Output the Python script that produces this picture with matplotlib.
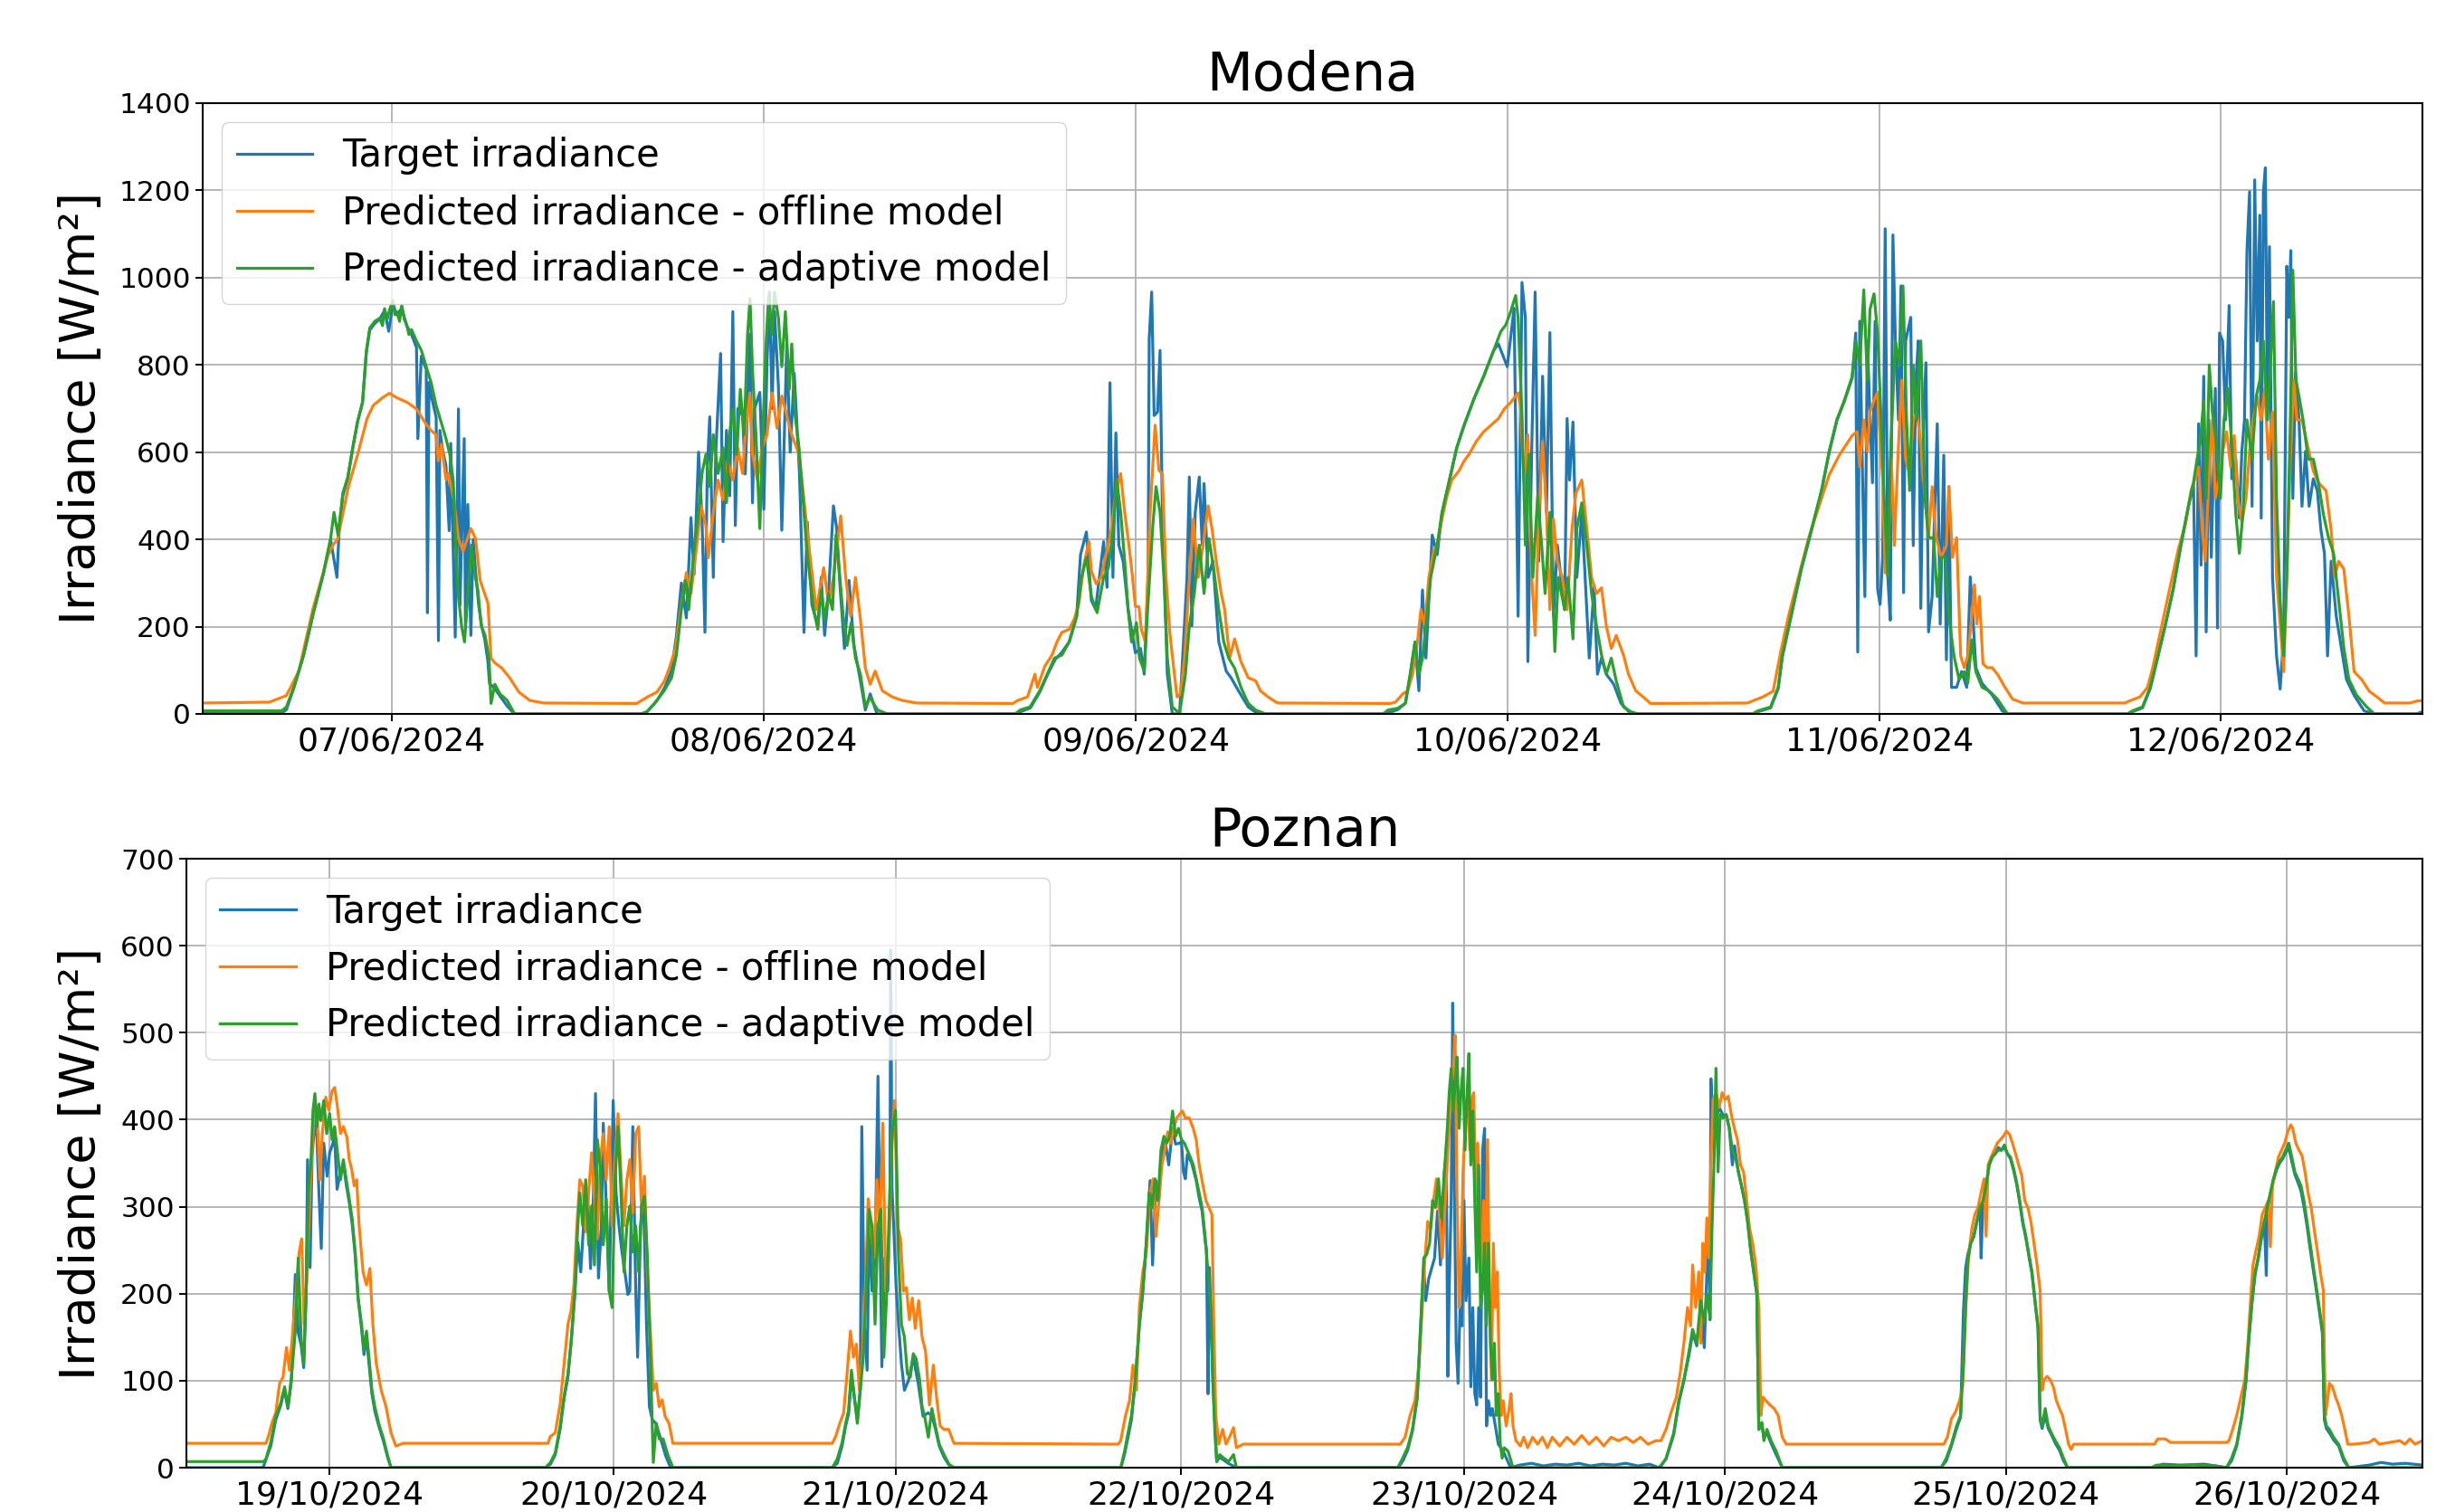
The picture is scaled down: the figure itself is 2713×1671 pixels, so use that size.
import numpy as np
import matplotlib
matplotlib.use("Agg")
import matplotlib.pyplot as plt

# ---------------- Modena (hours from start of plotted window, W/m2) ----------------
modena_ticks = [12.2, 36.2, 60.2, 84.2, 108.2, 130.2]
modena_ticklabels = ["07/06/2024", "08/06/2024", "09/06/2024", "10/06/2024", "11/06/2024", "12/06/2024"]

modena_target = [
    (0,2),(5.1,2),(5.4,10),(5.88,60),(6.51,135),(7.14,232),(7.78,321),(8.25,400),(8.66,313),(8.8,420),(9.04,500),(9.36,540),(9.68,610),(9.99,670),(10.31,714),(10.56,830),(10.78,880),(11.1,895),(11.42,905),(11.73,925),(12.0,877),(12.27,940),(12.52,915),(12.84,930),(13.16,890),(13.47,870),(13.79,840),(13.88,631),(14.1,820),(14.42,790),(14.5,232),(14.6,760),(14.74,730),(15.06,680),(15.21,168),(15.3,650),(15.5,600),(15.69,570),(15.9,420),(16.0,620),(16.29,176),(16.5,699),(16.6,250),(16.7,400),(16.87,631),(16.95,200),(17.1,480),(17.3,180),(17.45,400),(17.6,330),(17.8,250),(18.0,200),(18.2,170),(18.4,120),(18.5,70),(18.8,60),(19.2,40),(19.6,20),(20.1,0),
    (28.3,0),(28.66,5),(29.3,30),(29.8,60),(30.25,100),(30.56,180),(30.88,300),(31.2,220),(31.5,450),(31.7,320),(31.99,600),(32.21,450),(32.4,187),(32.55,560),(32.71,681),(32.94,313),(33.1,600),(33.41,826),(33.57,395),(33.79,650),(34.0,500),(34.2,922),(34.36,432),(34.52,700),(34.83,684),(35.0,550),(35.3,870),(35.47,484),(35.6,700),(35.94,737),(36.2,469),(36.4,800),(36.57,967),(36.73,700),(36.89,922),(37.14,750),(37.36,421),(37.68,848),(37.9,600),(38.16,781),(38.5,550),(38.79,187),(39.0,440),(39.3,250),(39.68,202),(39.9,313),(40.12,180),(40.37,276),(40.69,477),(40.9,425),(41.1,300),(41.4,150),(41.7,306),(42.0,160),(42.43,76),(42.75,9),(43.06,46),(43.5,0),
    (52.4,0),(53.4,14),(54.0,50),(54.5,90),(55.0,125),(55.4,140),(55.9,165),(56.38,224),(56.63,365),(57.01,417),(57.33,260),(57.6,240),(58.12,395),(58.34,290),(58.53,759),(58.72,313),(58.91,644),(59.1,387),(59.38,350),(59.7,240),(60.17,140),(60.5,150),(60.74,91),(60.99,313),(61.06,859),(61.22,967),(61.38,684),(61.6,692),(61.76,833),(61.91,462),(62.23,91),(62.55,0),(63.02,0),(63.5,313),(63.65,543),(63.81,202),(64.03,462),(64.29,543),(64.48,387),(64.6,528),(64.86,313),(65.17,350),(65.55,165),(66.03,98),(66.34,83),(66.82,53),(67.45,16),(68.08,0),
    (76.3,0),(77.1,10),(77.6,25),(77.9,90),(78.21,165),(78.46,53),(78.69,284),(78.91,128),(79.32,410),(79.64,365),(79.95,460),(80.43,536),(80.9,610),(81.38,662),(82.01,722),(82.64,774),(83.28,833),(83.59,848),(84.16,796),(84.6,930),(84.86,224),(85.11,989),(85.33,907),(85.49,120),(85.74,610),(85.96,967),(86.19,350),(86.44,774),(86.69,462),(86.91,874),(87.14,224),(87.39,387),(87.86,239),(88.02,677),(88.18,536),(88.4,669),(88.65,313),(88.97,462),(89.29,239),(89.45,128),(89.76,291),(89.98,91),(90.24,128),(90.55,91),(91.03,68),(91.5,24),(92.14,0),
    (100.0,0),(100.32,5),(101.15,14),(101.64,58),(101.9,130),(102.46,222),(103.12,330),(103.78,420),(104.43,510),(104.93,600),(105.42,672),(105.91,717),(106.41,770),(106.64,873),(106.77,142),(106.9,900),(107.06,584),(107.23,269),(107.39,855),(107.72,530),(107.89,900),(108.05,287),(108.21,251),(108.38,359),(108.54,1112),(108.71,314),(108.87,215),(109.04,1098),(109.2,855),(109.4,674),(109.56,981),(109.73,278),(109.86,855),(110.19,909),(110.35,386),(110.52,765),(110.68,855),(110.84,242),(111.01,674),(111.17,805),(111.34,188),(111.57,269),(111.9,665),(112.09,206),(112.32,593),(112.49,124),(112.65,521),(112.82,61),(113.15,61),(113.47,97),(113.8,61),(114.03,314),(114.2,224),(114.39,106),(114.79,70),(115.45,43),(116.1,7),(116.4,0),
    (124.16,0),(124.49,5),(125.14,14),(125.64,58),(126.13,130),(126.62,204),(127.12,285),(127.61,384),(128.1,474),(128.43,528),(128.6,133),(128.76,665),(128.92,341),(129.09,774),(129.25,188),(129.42,674),(129.58,359),(129.84,746),(129.98,197),(130.11,873),(130.31,855),(130.5,674),(130.73,936),(130.9,539),(131.16,584),(131.39,449),(131.55,602),(131.72,674),(131.88,1062),(132.05,1197),(132.21,476),(132.38,1224),(132.54,855),(132.71,1143),(132.8,449),(132.94,1197),(133.07,1252),(133.2,674),(133.33,1071),(133.53,314),(133.79,133),(134.02,57),(134.25,178),(134.45,1026),(134.58,909),(134.71,1062),(134.84,494),(135.01,783),(135.24,674),(135.43,476),(135.66,602),(135.89,476),(136.16,539),(136.42,512),(136.65,422),(136.88,368),(137.08,133),(137.31,350),(137.64,224),(137.97,151),(138.3,79),(138.79,43),(139.44,7),(140.1,0),(142.8,0),(143.2,5),
]

modena_offline = [
    (0,25),(4.3,27),(5.4,42),(6.2,98),(7.1,239),(8.1,365),(8.4,387),(8.7,400),(9.4,521),(10.0,595),(10.6,677),(11.0,707),(11.6,725),(12.05,735),(12.5,725),(13.2,714),(13.8,699),(14.3,670),(14.7,651),(15.05,640),(15.2,580),(15.4,618),(15.7,536),(15.85,551),(16.2,491),(16.5,402),(16.8,373),(17.3,425),(17.6,402),(17.9,306),(18.4,254),(18.6,128),(18.85,117),(19.3,105),(19.8,83),(20.4,50),(21.1,31),(22.0,25),
    (28.0,24),(28.7,39),(29.3,50),(29.8,76),(30.1,105),(30.5,150),(30.8,230),(31.2,324),(31.5,276),(31.8,365),(32.15,477),(32.46,432),(32.62,358),(32.94,462),(33.25,536),(33.57,491),(33.88,580),(34.2,536),(34.52,610),(34.83,551),(35.0,640),(35.3,736),(35.47,595),(35.78,536),(36.1,610),(36.4,640),(36.73,736),(37.05,655),(37.36,729),(37.68,684),(38.0,640),(38.47,595),(38.79,491),(39.1,387),(39.36,306),(39.58,239),(40.06,335),(40.37,254),(40.69,313),(41.16,454),(41.48,313),(41.8,224),(42.11,313),(42.43,217),(42.75,105),(43.06,68),(43.38,98),(43.85,53),(44.49,39),(45.12,31),(46.07,25),
    (52.26,24),(52.58,31),(53.21,39),(53.69,91),(53.85,61),(54.32,109),(54.79,135),(55.11,165),(55.43,187),(55.9,194),(56.22,217),(56.53,254),(56.85,343),(57.17,395),(57.33,328),(57.64,298),(57.96,313),(58.27,365),(58.59,417),(58.91,506),(59.22,551),(59.48,462),(59.7,402),(59.92,335),(60.17,246),(60.4,246),(60.55,194),(60.81,165),(61.12,462),(61.44,662),(61.69,558),(61.91,551),(62.14,313),(62.39,187),(62.64,105),(62.86,39),(63.08,46),(63.34,128),(63.59,276),(63.91,447),(64.22,313),(64.54,387),(64.86,477),(65.11,425),(65.39,350),(65.71,276),(65.93,239),(66.25,128),(66.57,172),(66.98,120),(67.45,83),(67.93,76),(68.24,53),(68.72,39),(69.35,25),
    (76.63,24),(76.95,27),(77.42,46),(77.74,53),(78.05,91),(78.37,165),(78.59,239),(78.84,202),(79.1,313),(79.41,373),(79.64,387),(79.95,447),(80.27,499),(80.58,536),(81.06,558),(81.38,580),(81.69,595),(82.17,625),(82.64,647),(83.12,662),(83.59,677),(83.97,699),(84.38,714),(84.86,736),(85.02,699),(85.24,536),(85.49,640),(85.74,313),(85.96,180),(86.19,447),(86.44,625),(86.69,462),(86.91,239),(87.14,447),(87.39,350),(87.71,313),(88.02,239),(88.34,425),(88.59,506),(88.97,536),(89.29,425),(89.6,313),(89.92,276),(90.24,289),(90.55,202),(90.87,150),(91.19,180),(91.66,135),(91.98,91),(92.45,53),(92.93,39),(93.4,24),
    (99.67,25),(100.0,30),(100.65,39),(101.31,52),(101.8,142),(102.3,224),(102.95,314),(103.61,404),(104.27,476),(104.93,548),(105.58,593),(106.08,620),(106.41,638),(106.73,647),(106.9,566),(107.16,674),(107.39,602),(107.56,692),(107.82,719),(108.05,737),(108.21,629),(108.38,539),(108.54,323),(108.71,350),(108.94,584),(109.13,386),(109.36,584),(109.6,765),(109.86,584),(110.12,548),(110.35,674),(110.58,692),(110.84,620),(111.11,494),(111.34,404),(111.57,521),(111.83,404),(112.16,359),(112.49,386),(112.65,521),(112.88,359),(113.15,404),(113.41,133),(113.64,106),(113.87,133),(114.13,224),(114.3,296),(114.46,206),(114.62,269),(114.85,115),(115.12,106),(115.45,106),(115.84,88),(116.27,61),(116.76,34),(117.42,25),
    (123.99,25),(124.32,30),(124.98,39),(125.47,61),(125.8,106),(126.13,161),(126.46,215),(126.95,296),(127.45,377),(127.94,440),(128.27,512),(128.53,539),(128.76,566),(128.99,422),(129.19,350),(129.42,539),(129.65,674),(129.84,494),(130.08,539),(130.31,602),(130.57,647),(130.83,566),(131.06,638),(131.29,494),(131.55,440),(131.82,494),(132.05,602),(132.28,674),(132.54,728),(132.8,674),(133.03,746),(133.26,584),(133.53,692),(133.79,314),(134.02,206),(134.25,97),(134.45,314),(134.68,584),(134.91,765),(135.1,674),(135.43,674),(135.76,620),(136.16,557),(136.49,530),(136.98,512),(137.31,422),(137.54,314),(137.8,350),(138.13,332),(138.46,224),(138.79,97),(139.28,79),(139.77,52),(140.27,39),(140.76,25),(142.4,25),(142.9,30),(143.2,30),
]

modena_adaptive = [
    (0,7),(5.09,7),(5.4,16),(5.88,61),(6.51,135),(7.14,232),(7.78,321),(8.25,402),(8.47,462),(8.73,410),(9.04,506),(9.36,543),(9.68,610),(9.99,670),(10.31,714),(10.56,833),(10.78,885),(11.1,900),(11.42,907),(11.6,890),(11.73,929),(11.9,905),(12.05,926),(12.27,948),(12.4,915),(12.52,922),(12.7,900),(12.84,937),(13.0,905),(13.16,892),(13.3,870),(13.47,881),(13.79,855),(14.11,833),(14.42,796),(14.74,759),(15.06,707),(15.37,670),(15.69,632),(15.94,595),(16.16,536),(16.32,387),(16.48,276),(16.7,202),(16.89,165),(17.11,276),(17.33,387),(17.59,313),(17.75,284),(17.97,202),(18.22,180),(18.47,128),(18.6,24),(18.85,68),(19.17,46),(19.64,31),(20.12,0),
    (28.3,0),(28.66,5),(29.14,24),(29.77,53),(30.25,83),(30.56,135),(30.88,239),(31.13,306),(31.35,239),(31.67,365),(31.99,462),(32.21,551),(32.46,595),(32.71,521),(32.94,640),(33.25,551),(33.57,610),(33.79,484),(33.98,640),(34.2,699),(34.45,595),(34.68,744),(34.93,640),(35.15,870),(35.31,952),(35.47,788),(35.69,640),(35.94,425),(36.1,610),(36.32,833),(36.51,959),(36.73,870),(36.89,967),(37.14,907),(37.36,796),(37.59,922),(37.84,744),(38.0,848),(38.22,684),(38.47,610),(38.73,491),(38.95,387),(39.17,313),(39.42,239),(39.68,194),(39.9,284),(40.12,217),(40.37,276),(40.63,239),(40.85,410),(41.07,328),(41.32,224),(41.57,157),(41.83,209),(42.11,128),(42.43,91),(42.75,16),(43.06,39),(43.28,24),(43.54,9),(44.17,0),
    (52.42,0),(52.74,9),(53.37,16),(54.0,53),(54.48,91),(54.95,128),(55.43,135),(55.9,165),(56.38,224),(56.69,313),(57.01,358),(57.33,269),(57.7,232),(58.12,313),(58.43,335),(58.75,425),(58.97,536),(59.22,462),(59.48,350),(59.7,239),(59.92,165),(60.24,209),(60.43,128),(60.74,98),(60.96,239),(61.28,425),(61.5,521),(61.76,462),(62.01,313),(62.23,128),(62.55,16),(63.02,1),(63.4,91),(63.65,202),(63.97,276),(64.29,387),(64.6,276),(64.92,402),(65.24,328),(65.55,239),(65.87,165),(66.19,128),(66.57,105),(66.98,61),(67.45,24),(67.93,9),(68.56,0),
    (76.15,0),(76.47,9),(77.1,13),(77.58,24),(77.9,91),(78.21,165),(78.46,91),(78.69,128),(78.91,202),(79.22,313),(79.64,387),(79.95,462),(80.43,536),(80.9,610),(81.38,662),(82.01,722),(82.64,774),(83.28,833),(83.75,877),(84.07,892),(84.38,922),(84.7,959),(84.86,907),(85.11,684),(85.33,387),(85.55,595),(85.81,313),(86.12,499),(86.38,387),(86.6,276),(86.91,462),(87.23,143),(87.45,313),(87.86,239),(88.08,313),(88.4,172),(88.65,425),(88.97,484),(89.29,387),(89.6,276),(89.92,202),(90.24,135),(90.55,91),(90.87,128),(91.19,76),(91.66,16),(92.14,5),(92.61,0),
    (100.0,0),(100.32,7),(101.15,16),(101.64,61),(101.9,133),(102.46,224),(103.12,332),(103.78,422),(104.43,512),(104.93,602),(105.42,674),(105.91,719),(106.41,773),(106.64,855),(106.9,800),(107.16,972),(107.39,765),(107.56,927),(107.82,963),(108.05,873),(108.28,674),(108.48,494),(108.71,314),(108.87,584),(109.2,855),(109.46,800),(109.69,981),(109.92,674),(110.12,512),(110.35,800),(110.58,674),(110.84,855),(111.11,494),(111.34,404),(111.67,404),(111.9,269),(112.16,359),(112.42,359),(112.65,224),(112.98,133),(113.31,79),(113.64,97),(113.87,70),(114.13,170),(114.39,97),(114.79,61),(115.28,52),(115.78,34),(116.43,0),
    (124.16,0),(124.49,7),(125.14,16),(125.64,61),(126.13,133),(126.62,206),(127.12,287),(127.61,386),(128.1,476),(128.43,530),(128.66,584),(128.86,620),(129.09,719),(129.25,494),(129.45,800),(129.65,692),(129.91,620),(130.17,494),(130.4,674),(130.63,746),(130.9,620),(131.16,458),(131.39,368),(131.62,458),(131.88,674),(132.21,584),(132.48,728),(132.71,765),(132.94,855),(133.2,674),(133.39,800),(133.59,945),(133.79,494),(134.02,260),(134.25,133),(134.45,314),(134.68,674),(134.84,1017),(135.04,765),(135.24,728),(135.5,674),(135.83,584),(136.16,584),(136.49,530),(136.81,458),(137.14,404),(137.47,368),(137.8,260),(138.13,151),(138.46,79),(138.95,43),(139.61,16),(140.1,0),(143.2,0),
]

# ---------------- Poznan ----------------
poznan_ticks = [12.1, 36.2, 60.1, 84.3, 108.3, 130.4, 154.2, 178.0]
poznan_ticklabels = ["19/10/2024", "20/10/2024", "21/10/2024", "22/10/2024",
                     "23/10/2024", "24/10/2024", "25/10/2024", "26/10/2024"]

poznan_target = [
    (0,0),(6.5,0),(7.15,25),(7.57,55),(8.0,72),(8.3,90),(8.6,68),(8.9,100),(9.23,222),(9.48,155),(9.73,140),(9.94,115),(10.15,200),(10.27,354),(10.48,230),(10.65,358),(10.89,399),(11.06,380),(11.23,316),(11.43,252),(11.64,373),(11.93,335),(12.14,362),(12.35,370),(12.56,380),(12.77,320),(13.06,340),(13.3,350),(13.55,325),(13.8,305),(14.05,280),(14.3,245),(14.55,195),(14.84,160),(15.05,130),(15.26,150),(15.47,120),(15.72,85),(15.97,65),(16.3,48),(16.71,30),(17.05,12),(17.34,0),
    (30.4,0),(30.85,4),(31.26,15),(31.68,45),(32.01,80),(32.34,105),(32.63,150),(32.92,200),(33.17,259),(33.42,225),(33.75,300),(34.0,316),(34.25,229),(34.5,316),(34.67,430),(34.92,218),(35.17,278),(35.33,396),(35.62,286),(35.83,203),(36.17,422),(36.41,316),(36.66,278),(36.91,248),(37.16,225),(37.41,199),(37.58,203),(37.83,392),(38.08,203),(38.24,127),(38.49,278),(38.74,309),(38.99,165),(39.24,70),(39.49,55),(39.78,51),(40.2,33),(40.61,14),(41.03,0),
    (54.7,0),(55.16,5),(55.57,25),(55.87,48),(56.12,62),(56.36,105),(56.61,80),(56.86,55),(57.11,90),(57.24,392),(57.45,165),(57.69,112),(57.86,278),(58.11,203),(58.36,241),(58.61,450),(58.77,278),(58.94,116),(59.19,241),(59.44,203),(59.62,300),(59.69,595),(59.8,320),(59.94,278),(60.14,210),(60.35,165),(60.6,119),(60.85,89),(61.19,100),(61.6,127),(62.02,97),(62.43,59),(62.85,63),(63.18,60),(63.47,45),(63.8,25),(64.21,12),(64.63,3),(65.05,0),
    (79.2,0),(79.5,15),(79.8,35),(80.09,55),(80.42,100),(80.76,165),(81.05,200),(81.34,255),(81.67,330),(81.88,233),(82.17,330),(82.42,310),(82.67,360),(82.92,378),(83.25,348),(83.58,390),(83.83,372),(84.17,373),(84.33,375),(84.5,340),(84.66,332),(84.83,360),(85.2,350),(85.58,330),(85.83,310),(86.08,295),(86.33,262),(86.45,250),(86.58,85),(86.7,230),(86.99,100),(87.32,7),(87.57,12),(88.3,5),(88.99,0),
    (102.7,0),(103.1,8),(103.5,20),(103.9,42),(104.3,80),(104.6,165),(104.86,230),(105.03,192),(105.28,217),(105.78,241),(106.03,295),(106.28,233),(106.61,340),(106.78,361),(106.9,105),(107.02,204),(107.19,307),(107.32,534),(107.44,348),(107.61,143),(107.77,97),(107.94,184),(108.11,163),(108.27,307),(108.44,192),(108.69,241),(108.85,93),(109.02,184),(109.19,85),(109.35,72),(109.52,184),(109.68,81),(109.85,365),(110.02,390),(110.18,48),(110.35,77),(110.52,60),(110.68,68),(110.93,48),(111.18,27),(111.6,19),(112.22,0),(113,3),(114,5),(115,2),(116,4),(117,3),(118,5),(119,2),(120,4),(121,3),(122,5),(123,2),(124,4),(124.8,0),
    (125.4,10),(126.05,38),(126.48,75),(126.91,100),(127.35,130),(127.65,155),(128.0,140),(128.34,185),(128.64,138),(128.86,225),(129.03,274),(129.12,170),(129.2,447),(129.38,390),(129.63,400),(129.9,414),(130.24,405),(130.5,405),(130.76,390),(131.02,348),(131.2,370),(131.53,340),(131.79,324),(132.05,307),(132.31,283),(132.57,250),(132.83,225),(133.09,200),(133.26,44),(133.52,50),(133.69,35),(133.95,40),(134.3,28),(134.73,15),(135.25,0),
    (148.7,0),(149.15,8),(149.58,25),(150.02,45),(150.36,58),(150.6,180),(150.79,230),(150.97,245),(151.22,258),(151.48,266),(151.74,283),(152.0,299),(152.1,241),(152.26,307),(152.52,324),(152.78,348),(153.04,357),(153.3,361),(153.56,368),(153.82,365),(154.07,368),(154.33,361),(154.59,355),(154.85,342),(155.11,326),(155.37,305),(155.63,281),(155.89,264),(156.15,243),(156.41,223),(156.67,190),(156.92,160),(157.1,55),(157.27,45),(157.53,60),(157.79,45),(158.05,38),(158.39,28),(158.74,20),(159.08,8),(159.43,0),
    (166.5,0),(167.5,4),(169.0,3),(171.0,4),(172.9,0),(173.33,8),(173.76,25),(174.19,58),(174.54,98),(174.8,150),(175.06,190),(175.32,222),(175.58,240),(175.84,262),(176.1,283),(176.27,221),(176.35,297),(176.61,314),(176.87,330),(177.13,342),(177.39,350),(177.65,355),(177.91,362),(178.17,368),(178.43,352),(178.69,337),(178.95,328),(179.21,318),(179.46,300),(179.72,278),(179.98,252),(180.24,228),(180.5,205),(180.76,180),(181.02,155),(181.19,55),(181.36,45),(181.62,40),(181.97,32),(182.4,25),(182.83,8),(183.26,0),(185,3),(186,6),(187,4),(188,5),(189.5,3),
]

poznan_offline = [
    (0,28),(6.74,28),(6.95,36),(7.24,51),(7.57,63),(7.9,97),(8.19,104),(8.48,138),(8.73,112),(9.02,157),(9.31,203),(9.56,248),(9.77,263),(9.98,165),(10.19,214),(10.48,316),(10.69,373),(10.89,422),(11.1,399),(11.31,331),(11.52,384),(11.81,426),(12.06,411),(12.35,433),(12.56,437),(12.77,418),(13.06,384),(13.3,392),(13.6,380),(13.8,354),(14.01,343),(14.22,324),(14.43,331),(14.64,278),(14.97,225),(15.26,210),(15.55,229),(15.8,165),(16.09,120),(16.51,89),(16.92,70),(17.34,40),(17.75,25),(18.38,28),
    (30.64,28),(30.85,36),(31.26,40),(31.68,74),(32.01,120),(32.34,165),(32.59,180),(32.84,210),(33.09,278),(33.34,331),(33.59,324),(33.84,271),(34.09,316),(34.34,362),(34.58,309),(34.83,263),(35.08,354),(35.33,384),(35.58,331),(35.83,392),(36.08,278),(36.33,354),(36.58,407),(36.83,339),(37.08,278),(37.33,331),(37.58,354),(37.83,293),(38.08,384),(38.33,392),(38.58,293),(38.82,335),(39.07,222),(39.32,157),(39.57,89),(39.82,97),(40.07,70),(40.32,78),(40.57,59),(40.9,51),(41.23,28),(42.07,28),
    (54.74,28),(55.03,36),(55.37,51),(55.7,63),(55.99,108),(56.28,157),(56.53,127),(56.78,142),(57.03,89),(57.28,127),(57.53,203),(57.78,309),(58.03,271),(58.28,241),(58.52,331),(58.77,278),(59.02,396),(59.27,203),(59.52,241),(59.77,373),(60.02,422),(60.27,278),(60.52,263),(60.77,203),(61.02,207),(61.27,170),(61.52,195),(61.77,160),(62.06,192),(62.35,150),(62.64,134),(62.97,72),(63.3,118),(63.6,78),(63.88,48),(64.2,44),(64.6,44),(65.05,28),
    (78.97,27),(79.18,31),(79.59,60),(79.93,77),(80.22,118),(80.51,89),(80.76,184),(81.05,225),(81.34,245),(81.67,316),(81.92,332),(82.17,266),(82.42,307),(82.67,348),(82.92,365),(83.17,386),(83.42,373),(83.67,390),(83.92,402),(84.17,406),(84.41,410),(84.66,402),(84.99,402),(85.33,390),(85.58,377),(85.83,348),(86.16,324),(86.41,307),(86.66,299),(86.91,291),(87.07,163),(87.24,60),(87.49,27),(87.82,44),(88.11,27),(88.4,35),(88.74,46),(88.99,23),(89.57,27),
    (102.87,27),(103.28,35),(103.7,60),(104.12,77),(104.45,118),(104.74,184),(104.95,237),(105.2,283),(105.45,275),(105.69,307),(105.94,332),(106.19,291),(106.44,241),(106.69,307),(106.94,373),(107.19,431),(107.36,459),(107.52,497),(107.69,307),(107.86,184),(108.02,225),(108.19,340),(108.36,390),(108.6,439),(108.77,365),(108.94,423),(109.1,431),(109.27,307),(109.44,373),(109.6,287),(109.77,225),(109.93,307),(110.1,225),(110.27,377),(110.43,200),(110.6,101),(110.76,258),(110.93,184),(111.1,225),(111.26,110),(111.43,60),(111.6,77),(111.85,48),(112.1,68),(112.26,85),(112.43,48),(112.68,31),(113.05,25),(113.34,35),(113.67,23),(114.09,35),(114.51,27),(114.92,35),(115.34,23),(115.75,35),(116.38,25),(117.0,35),(117.62,27),(118.25,37),(118.87,27),(119.49,35),(120.12,25),(120.74,35),(121.36,31),(121.99,35),(122.61,29),(123.23,35),(123.86,27),(124.54,31),(124.97,31),(125.4,44),(125.84,64),(126.27,81),(126.61,110),(126.91,143),(127.22,184),(127.48,163),(127.65,233),(127.91,184),(128.17,225),(128.34,143),(128.51,258),(128.69,225),(128.86,287),(129.03,241),(129.2,348),(129.38,423),(129.63,431),(129.9,414),(130.15,431),(130.41,423),(130.67,427),(130.93,406),(131.19,390),(131.45,377),(131.71,348),(131.97,340),(132.23,307),(132.49,274),(132.74,258),(133.0,233),(133.26,184),(133.43,60),(133.61,81),(133.87,77),(134.21,72),(134.56,68),(134.9,60),(135.25,35),(135.59,27),(137.49,27),
    (148.94,27),(149.24,35),(149.58,56),(149.93,64),(150.27,77),(150.53,93),(150.79,184),(151.05,245),(151.31,274),(151.57,291),(151.83,299),(152.09,316),(152.35,332),(152.52,266),(152.69,348),(152.95,357),(153.21,365),(153.47,373),(153.73,377),(153.99,381),(154.25,387),(154.51,383),(154.76,373),(155.02,361),(155.28,348),(155.54,336),(155.8,307),(156.06,299),(156.32,283),(156.58,258),(156.84,233),(157.1,204),(157.27,89),(157.44,101),(157.7,105),(157.96,101),(158.22,93),(158.48,77),(158.74,68),(159.0,60),(159.26,44),(159.51,27),(159.73,21),(159.95,27),
    (166.8,27),(167.07,33),(167.72,33),(168.15,29),(172.9,29),(173.11,31),(173.42,44),(173.76,60),(174.11,81),(174.45,101),(174.71,143),(174.97,200),(175.14,233),(175.4,250),(175.66,266),(175.92,291),(176.18,299),(176.44,307),(176.61,254),(176.79,324),(177.04,340),(177.3,357),(177.56,365),(177.82,373),(178.08,386),(178.34,394),(178.51,390),(178.77,373),(179.03,365),(179.29,359),(179.55,340),(179.81,316),(180.07,299),(180.33,274),(180.59,250),(180.85,225),(181.1,204),(181.28,60),(181.45,77),(181.62,97),(181.88,93),(182.14,81),(182.4,72),(182.66,60),(182.92,44),(183.18,27),(183.7,27),(184.99,29),(185.42,33),(185.85,27),(186.72,29),(187.58,31),(188.01,27),(188.44,33),(188.87,27),(189.5,31),
]

poznan_adaptive = [
    (0,7),(6.53,7),(6.74,10),(7.15,29),(7.57,59),(7.99,74),(8.32,93),(8.61,70),(8.9,104),(9.23,157),(9.48,241),(9.73,146),(9.94,120),(10.15,203),(10.35,316),(10.56,354),(10.73,411),(10.89,430),(11.06,392),(11.23,418),(11.39,399),(11.64,422),(11.89,384),(12.14,407),(12.35,377),(12.56,392),(12.81,362),(13.06,331),(13.3,354),(13.55,331),(13.8,309),(14.05,286),(14.3,248),(14.55,195),(14.84,165),(15.05,135),(15.26,157),(15.47,127),(15.72,89),(15.97,70),(16.3,51),(16.71,33),(17.05,14),(17.34,0),
    (30.43,0),(30.85,6),(31.26,17),(31.68,48),(32.01,82),(32.34,108),(32.63,146),(32.92,203),(33.17,278),(33.34,316),(33.59,278),(33.84,331),(34.09,256),(34.34,301),(34.58,233),(34.83,377),(35.08,346),(35.33,256),(35.58,309),(35.83,203),(36.08,184),(36.33,331),(36.58,392),(36.83,316),(37.08,225),(37.33,278),(37.58,301),(37.83,248),(38.08,278),(38.33,225),(38.58,301),(38.82,312),(39.07,241),(39.32,127),(39.57,6),(39.82,51),(40.07,33),(40.4,33),(40.82,14),(41.23,0),
    (54.74,0),(55.16,10),(55.57,29),(55.87,51),(56.12,66),(56.36,112),(56.61,82),(56.86,51),(57.11,89),(57.36,127),(57.61,203),(57.86,297),(58.11,278),(58.36,165),(58.61,278),(58.86,297),(59.11,127),(59.36,203),(59.61,316),(59.86,392),(60.1,411),(60.35,241),(60.6,165),(60.85,150),(61.1,108),(61.35,104),(61.6,131),(61.85,125),(62.14,101),(62.35,70),(62.55,60),(62.88,35),(63.18,68),(63.47,48),(63.8,27),(64.21,15),(64.63,4),(65.05,0),
    (79.18,0),(79.51,19),(79.8,40),(80.09,60),(80.42,101),(80.76,163),(81.05,204),(81.34,258),(81.59,316),(81.84,299),(82.09,332),(82.34,307),(82.59,365),(82.84,381),(83.08,373),(83.33,381),(83.58,410),(83.83,381),(84.08,390),(84.33,377),(84.58,373),(84.83,365),(85.08,357),(85.33,348),(85.58,332),(85.83,316),(86.08,299),(86.33,266),(86.58,225),(86.83,184),(86.99,101),(87.16,40),(87.32,7),(87.57,15),(87.91,11),(88.32,7),(88.74,15),(88.99,0),
    (102.66,0),(103.08,11),(103.49,23),(103.91,44),(104.32,81),(104.61,163),(104.86,241),(105.11,245),(105.36,258),(105.61,307),(105.86,299),(106.11,332),(106.36,287),(106.61,340),(106.86,390),(107.02,431),(107.19,459),(107.36,410),(107.52,439),(107.69,472),(107.86,390),(108.02,431),(108.19,459),(108.36,365),(108.52,423),(108.69,476),(108.85,348),(109.02,410),(109.19,307),(109.35,225),(109.52,348),(109.68,184),(109.85,204),(110.02,258),(110.18,163),(110.35,258),(110.52,143),(110.68,101),(110.85,143),(111.01,60),(111.18,85),(111.35,27),(111.51,11),(111.68,23),(112.01,19),(112.43,0),
    (124.9,0),(125.4,11),(126.05,40),(126.48,77),(126.91,101),(127.35,134),(127.65,159),(128.0,143),(128.34,192),(128.64,167),(128.86,200),(129.12,172),(129.29,274),(129.46,348),(129.63,459),(129.81,340),(129.98,406),(130.24,402),(130.5,406),(130.76,390),(131.02,365),(131.28,357),(131.53,340),(131.79,324),(132.05,307),(132.31,283),(132.57,250),(132.83,225),(133.09,200),(133.26,44),(133.52,52),(133.69,31),(133.95,44),(134.3,31),(134.73,19),(135.25,0),
    (148.72,0),(149.15,11),(149.58,27),(150.02,48),(150.36,60),(150.62,122),(150.79,184),(150.97,237),(151.22,258),(151.48,266),(151.74,283),(152.0,299),(152.26,307),(152.52,324),(152.78,348),(153.04,357),(153.3,361),(153.56,365),(153.82,365),(154.07,371),(154.33,361),(154.59,357),(154.85,344),(155.11,328),(155.37,307),(155.63,283),(155.89,266),(156.15,245),(156.41,225),(156.67,192),(156.92,163),(157.1,60),(157.27,48),(157.53,68),(157.79,48),(158.05,40),(158.39,31),(158.74,23),(159.08,11),(159.43,0),
    (166.5,0),(167.0,3),(168.0,2),(170.0,3),(172.0,2),(172.9,0),(173.33,11),(173.76,27),(174.19,60),(174.54,101),(174.8,151),(175.06,192),(175.32,225),(175.58,241),(175.84,266),(176.1,283),(176.35,299),(176.61,316),(176.87,332),(177.13,344),(177.39,352),(177.65,357),(177.91,365),(178.17,373),(178.43,357),(178.69,340),(178.95,332),(179.21,324),(179.46,307),(179.72,283),(179.98,258),(180.24,233),(180.5,208),(180.76,184),(181.02,159),(181.19,60),(181.36,48),(181.62,44),(181.97,35),(182.4,27),(182.83,11),(183.26,0),(189.5,0),
]

series_labels = ["Target irradiance",
                 "Predicted irradiance - offline model",
                 "Predicted irradiance - adaptive model"]
series_colors = ["#1f77b4", "#ff7f0e", "#2ca02c"]


def xy(points):
    arr = np.asarray(points, dtype=float)
    return arr[:, 0], arr[:, 1]


fig = plt.figure(figsize=(27.13, 16.71), dpi=100)
ax_top = fig.add_axes([0.08257, 0.52783, 0.90416, 0.40395])
ax_bot = fig.add_axes([0.07593, 0.02932, 0.91080, 0.40275])

panels = [
    (ax_top, "Modena", [modena_target, modena_offline, modena_adaptive],
     (0, 143.2), (0, 1400), np.arange(0, 1401, 200), modena_ticks, modena_ticklabels, -0.044),
    (ax_bot, "Poznan", [poznan_target, poznan_offline, poznan_adaptive],
     (0, 189.5), (0, 700), np.arange(0, 701, 100), poznan_ticks, poznan_ticklabels, -0.0364),
]

for ax, title, series, xlim, ylim, yticks, xticks, xlabels, lab_x in panels:
    for pts, col, lab in zip(series, series_colors, series_labels):
        x, y = xy(pts)
        ax.plot(x, y, color=col, lw=2.3, label=lab)
    ax.set_xlim(*xlim)
    ax.set_ylim(*ylim)
    ax.set_yticks(yticks)
    ax.set_xticks(xticks)
    ax.set_xticklabels(xlabels, fontsize=26)
    ax.tick_params(axis='y', labelsize=22.5)
    ax.tick_params(length=6, width=1.4)
    ax.grid(True, color="#b0b0b0", lw=1.3)
    for sp in ax.spines.values():
        sp.set_linewidth(1.5)
    ax.set_title(title, fontsize=42.5, pad=10)
    ax.set_ylabel("Irradiance [W/m²]", fontsize=39)
    ax.yaxis.set_label_coords(lab_x, 0.5)
    ax.legend(loc="upper left", fontsize=30)

fig.savefig("out.png", dpi=100)
